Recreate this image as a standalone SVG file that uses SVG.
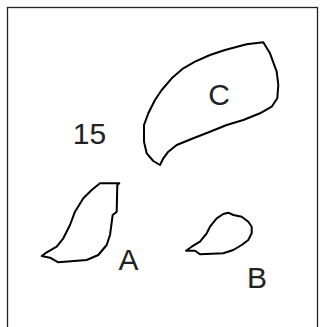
<svg xmlns="http://www.w3.org/2000/svg" width="320" height="327" viewBox="0 0 320 327">
<style>
.frame{fill:none;stroke:#222;stroke-width:1.3}
.blob{fill:none;stroke:#000;stroke-width:2;stroke-linejoin:round}
.lbl{font-family:"Liberation Sans",Arial,sans-serif;font-size:30px;fill:#222;text-anchor:middle}
</style>
<rect class="frame" x="7.5" y="7.5" width="310" height="330"/>
<g id="C">
<path class="blob" d="M246.7,44.3 L263.3,42.3 L270,53.3 L276.7,71.7 L278.3,85 L277.3,98.3 L271.7,106.7 L260,113.3 L243.3,120 L226.7,125 L210,131.7 L193.3,138.3 L176.7,145 L168.3,151.7 L163.3,158.3 L160,165 L153.3,161 L146.7,153.3 L144,141.7 L144,125 L148.3,113.3 L155,100 L161.7,90 L171.7,78.3 L183.3,68.3 L195,61.7 L210,55 L225,50 L240,46 Z"/>
<text class="lbl" x="219" y="105">C</text>
</g>
<g id="A">
<path class="blob" d="M100,183.3 L119.3,183.3 L117.3,185 L116.7,211.7 L112.7,215 L110,235 L106.7,245 L98.3,255 L86.7,260 L58.3,262.3 L50,257.7 L41.7,256 L46.7,252.3 L56.7,246.7 L63.3,238.3 L70,225 L75,211.7 L83.3,198.3 L91.7,190 Z"/>
<text class="lbl" x="128.5" y="269.5">A</text>
</g>
<g id="B">
<path class="blob" d="M228.3,212.7 L233.3,215 L241.7,216.7 L248.3,221.7 L251.7,226.7 L251.7,233.3 L248.3,240 L241.7,245 L233.3,250 L223.3,253.3 L200,254.3 L195,250.7 L186,250.7 L191.7,246.7 L200,241.7 L206.7,233.3 L210,226.7 L216.7,218.3 L223.3,214 Z"/>
<text class="lbl" x="257" y="287.5">B</text>
</g>
<text class="lbl" x="89.5" y="144">15</text>
</svg>
